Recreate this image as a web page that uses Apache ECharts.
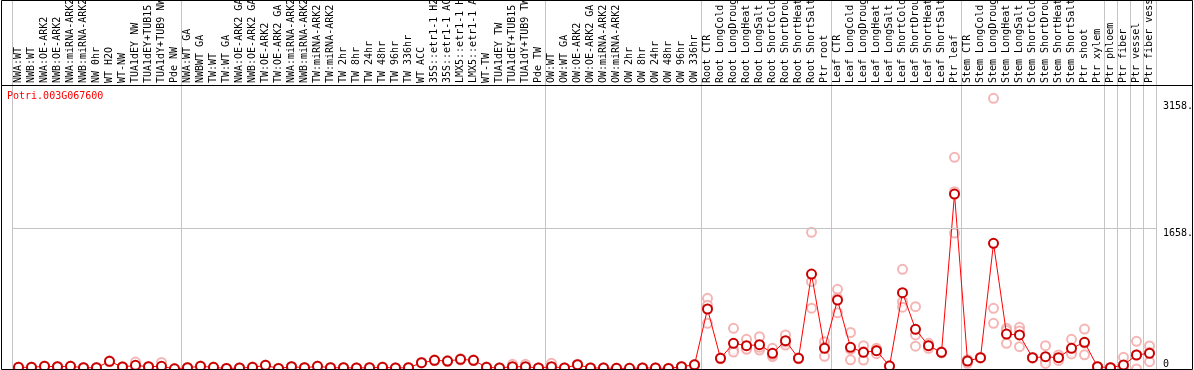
<!DOCTYPE html>
<html>
<head>
<meta charset="utf-8">
<script src="https://cdn.jsdelivr.net/npm/echarts@6/dist/echarts.min.js"></script>
<style>
  html, body { margin: 0; padding: 0; background: #fff; }
  #chart { width: 1194px; height: 370px; }
</style>
</head>
<body>
<div id="chart"></div>
<script>
const geneId = 'Potri.003G067600'

const categories = [
  'NWA:WT', 'NWB:WT', 'NWA:OE-ARK2', 'NWB:OE-ARK2', 'NWA:miRNA-ARK2', 'NWB:miRNA-ARK2', 'NW 0hr', 'WT H2O', 'WT-NW',
  'TUA1dEY NW', 'TUA1dEY+TUB15 NW', 'TUA1dY+TUB9 NW', 'Pde NW',
  'NWA:WT GA', 'NWBWT GA', 'TW:WT', 'TW:WT GA', 'NWA:OE-ARK2 GA', 'NWB:OE-ARK2 GA', 'TW:OE-ARK2', 'TW:OE-ARK2 GA',
  'NWA:miRNA-ARK2', 'NWB:miRNA-ARK2', 'TW:miRNA-ARK2', 'TW:miRNA-ARK2', 'TW 2hr', 'TW 8hr', 'TW 24hr', 'TW 48hr',
  'TW 96hr', 'TW 336hr', 'WT ACC', '35S::etr1-1 H2O', '35S::etr1-1 ACC', 'LMX5::etr1-1 H2O', 'LMX5::etr1-1 ACC',
  'WT-TW', 'TUA1dEY TW', 'TUA1dEY+TUB15 TW', 'TUA1dY+TUB9 TW', 'Pde TW',
  'OW:WT', 'OW:WT GA', 'OW:OE-ARK2', 'OW:OE-ARK2 GA', 'OW:miRNA-ARK2', 'OW:miRNA-ARK2', 'OW 2hr', 'OW 8hr', 'OW 24hr',
  'OW 48hr', 'OW 96hr', 'OW 336hr',
  'Root CTR', 'Root LongCold', 'Root LongDrought', 'Root LongHeat', 'Root LongSalt', 'Root ShortCold', 'Root ShortDrought',
  'Root ShortHeat', 'Root ShortSalt', 'Ptr root',
  'Leaf CTR', 'Leaf LongCold', 'Leaf LongDrought', 'Leaf LongHeat', 'Leaf LongSalt', 'Leaf ShortCold', 'Leaf ShortDrought',
  'Leaf ShortHeat', 'Leaf ShortSalt', 'Ptr leaf',
  'Stem CTR', 'Stem LongCold', 'Stem LongDrought', 'Stem LongHeat', 'Stem LongSalt', 'Stem ShortCold', 'Stem ShortDrought',
  'Stem ShortHeat', 'Stem ShortSalt', 'Ptr shoot', 'Ptr xylem',
  'Ptr phloem', 'Ptr fiber', 'Ptr vessel', 'Ptr fiber vessel',
]

// mean expression per sample
const means = [
  20, 20, 32, 27, 32, 15, 15, 90, 24, 43, 27, 32, 2,
  15, 32, 20, 6, 12, 20, 43, 6, 27, 15, 32, 15, 15, 12, 15, 20, 12, 15, 74, 102, 94, 114, 102, 20, 12, 27, 27, 12,
  27, 12, 51, 12, 12, 8, 8, 12, 12, 6, 27, 49,
  707, 126, 303, 275, 287, 185, 334, 126, 1119, 244,
  813, 256, 196, 216, 35, 899, 468, 275, 196, 2062,
  94, 133, 1481, 412, 401, 133, 145, 133, 244, 314, 27,
  15, 47, 165, 185,
]

// individual replicates per sample
const replicates = [
  [18, 22, 20], [17, 24, 19], [28, 36, 32], [24, 30, 27], [29, 35, 32], [12, 18, 15], [13, 17, 15], [84, 96, 90],
  [20, 28, 24], [82, 25, 22], [24, 30, 27], [78, 10, 8], [1, 2, 3],
  [12, 18, 15], [28, 36, 32], [17, 23, 20], [4, 8, 6], [10, 14, 12], [16, 24, 20], [38, 48, 43], [4, 8, 6],
  [24, 30, 27], [12, 18, 15], [28, 36, 32], [12, 18, 15], [12, 18, 15], [10, 14, 12], [12, 18, 15], [16, 24, 20],
  [10, 14, 12], [12, 18, 15], [68, 80, 74], [96, 108, 102], [88, 100, 94], [106, 122, 114], [96, 108, 102],
  [16, 24, 20], [10, 14, 12], [55, 14, 12], [55, 14, 12], [10, 14, 12],
  [67, 8, 6], [10, 14, 12], [46, 56, 51], [10, 14, 12], [10, 14, 12], [6, 10, 8], [6, 10, 8], [10, 14, 12],
  [10, 14, 12], [4, 8, 6], [24, 30, 27], [44, 54, 49],
  [833, 750, 538], [120, 132, 126], [480, 230, 200], [350, 244, 232], [381, 224, 256], [244, 145, 166],
  [401, 283, 318], [120, 132, 126], [1611, 1029, 717], [322, 260, 150],
  [939, 663, 837], [430, 230, 108], [275, 106, 207], [244, 224, 180], [30, 40, 35], [1175, 793, 729],
  [734, 401, 269], [303, 244, 278], [190, 202, 196], [2495, 2089, 1602],
  [67, 110, 105], [128, 138, 133], [3190, 715, 538], [480, 303, 453], [491, 263, 449], [128, 138, 133],
  [275, 94, 66], [165, 133, 101], [350, 204, 178], [470, 305, 167], [24, 30, 27],
  [12, 18, 15], [138, 2, 1], [326, 0, 169], [271, 86, 198],
]

// first sample of each block (a grey divider is drawn to its left)
const groupStarts = [0, 13, 41, 53, 63, 73, 84, 85, 86, 87]
const yLabels = [1658, 3158]
const yMax = 3347

const FONT = 'DejaVu Sans Mono'
const GREY = '#c4c4c4'

const chart = echarts.init(document.getElementById('chart'))

const dividerLine = {
  show: true,
  interval: (index) => groupStarts.includes(index),
  lineStyle: { color: GREY, width: 1 },
}

chart.setOption({
  animation: false,
  backgroundColor: '#fff',
  title: {
    text: geneId,
    left: 7,
    top: 91,
    padding: 0,
    textStyle: { color: '#ff0000', fontFamily: FONT, fontSize: 10, fontWeight: 'normal' },
  },
  grid: [
    { left: 12, width: 1144, top: 85, bottom: 1, outerBoundsMode: 'none' },
    { left: 12, width: 1144, top: 0, height: 85, outerBoundsMode: 'none' },
  ],
  xAxis: [
    {
      type: 'category',
      position: 'top',
      data: categories,
      axisLine: { show: false },
      axisTick: { show: false },
      axisLabel: { interval: 0, rotate: 90, margin: 2, color: '#000', fontFamily: FONT, fontSize: 10 },
      splitLine: dividerLine,
    },
    {
      type: 'category',
      gridIndex: 1,
      data: categories,
      axisLine: { show: false },
      axisTick: { show: false },
      axisLabel: { show: false },
      splitLine: dividerLine,
    },
  ],
  yAxis: [
    {
      type: 'value',
      position: 'right',
      min: 0,
      max: yMax,
      axisLine: { show: false },
      axisTick: { show: false },
      splitLine: { show: false },
      axisLabel: {
        customValues: yLabels,
        formatter: (v) => v + '.',
        verticalAlign: 'top',
        margin: 7,
        color: '#000',
        fontFamily: FONT,
        fontSize: 10,
      },
    },
    {
      type: 'value',
      position: 'right',
      min: 0,
      max: yMax,
      axisLine: { show: false },
      axisTick: { show: false },
      splitLine: { show: false },
      axisLabel: {
        customValues: [0],
        formatter: (v) => String(v),
        verticalAlign: 'bottom',
        margin: 7,
        color: '#000',
        fontFamily: FONT,
        fontSize: 10,
      },
    },
    { type: 'value', gridIndex: 1, show: false },
  ],
  series: [
    {
      name: 'replicates',
      type: 'scatter',
      z: 2,
      symbol: 'emptyCircle',
      symbolSize: 9,
      itemStyle: { color: '#f4a2a2', borderWidth: 1 },
      data: replicates.flatMap((reps, i) => reps.map((v) => [i, v])),
      markLine: {
        silent: true,
        symbol: ['none', 'none'],
        label: { show: false },
        lineStyle: { color: GREY, type: 'solid', width: 1 },
        data: [{ yAxis: 1658 }],
      },
    },
    {
      name: 'mean',
      type: 'line',
      z: 3,
      data: means,
      symbol: 'emptyCircle',
      symbolSize: 9,
      lineStyle: { color: '#ff0000', width: 1 },
      itemStyle: { color: '#c80000', borderWidth: 1.5 },
    },
  ],
  graphic: [
    {
      type: 'rect',
      z: 100,
      silent: true,
      shape: { x: 1.5, y: 0.5, width: 1191, height: 369 },
      style: { fill: 'none', stroke: '#000', lineWidth: 1 },
    },
    {
      type: 'line',
      z: 100,
      silent: true,
      shape: { x1: 1, y1: 85.5, x2: 1193, y2: 85.5 },
      style: { stroke: '#000', lineWidth: 1 },
    },
  ],
})
</script>
</body>
</html>
